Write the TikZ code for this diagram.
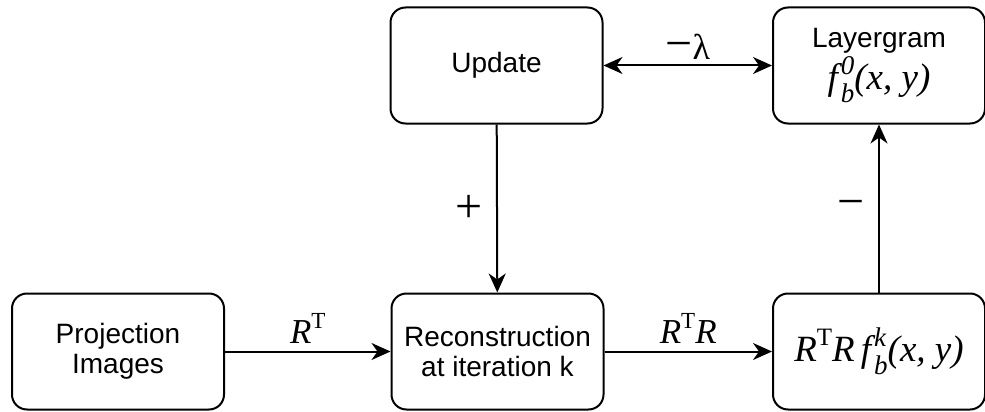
\documentclass[tikz,border=0pt]{standalone}
\usepackage{fontspec}
\setmainfont{Liberation Sans}
\newfontfamily\mf{Liberation Serif}
\usetikzlibrary{arrows.meta}
\newcommand{\mi}[1]{{\mf\itshape #1}}
\newcommand{\fsz}[1]{\fontsize{#1}{#1}\selectfont}
\newcommand{\fbk}[1]{\mi{f\kern3pt\makebox[0pt][l]{\raisebox{0.40em}{\fsz{27}#1}}\raisebox{-0.36em}{\fsz{27}b}(x, y)}}
\begin{document}
\begin{tikzpicture}[x=1pt,y=-1pt,
  box/.style={draw,line width=2pt,rounded corners=15pt,minimum width=212pt,minimum height=116pt,align=center,font=\fsz{28}},
  conn/.style={line width=2pt,-{Stealth[length=19pt,width=17pt,inset=6pt]}},
  lbl/.style={font=\fsz{30}}]
\useasboundingbox (0,0) rectangle (985,412);
\node[box] (proj) at (118,351.5) {Projection\\[2pt]Images};
\node[box] (rec) at (497.5,351.5) {Reconstruction\\[2pt]at iteration k};
\node[box] (rtr) at (879,351.5) {\fsz{37}\mi{R}\raisebox{0.42em}{\mf\fsz{25}T}\mi{R}\,\fbk{k}};
\node[box] (upd) at (496.5,65.5) {Update};
\node[box] (lay) at (879,65.5) {Layergram\\[3pt]{\fsz{37}\fbk{0}}};
\draw[conn] (proj) -- (rec) node[midway,above=4pt,lbl] {\fsz{35}\mi{R}\raisebox{0.42em}{\mf\fsz{23}T}};
\draw[conn] (rec) -- (rtr) node[midway,above=4pt,lbl] {\fsz{35}\mi{R}\raisebox{0.42em}{\mf\fsz{23}T}\mi{R}};
\draw[conn,{Stealth[length=19pt,width=17pt,inset=6pt]}-{Stealth[length=19pt,width=17pt,inset=6pt]}] (upd) -- (lay) node[midway,above=2pt,lbl] {\mf\fsz{36}{\fsz{48}−}λ};
\draw[conn] (upd) -- (rec) node[pos=0.5,left=10pt,lbl] {\mf\fsz{48}+};
\draw[conn] (rtr) -- (lay) node[pos=0.5,left=10pt,lbl] {\mf\fsz{48}−};
\end{tikzpicture}
\end{document}
